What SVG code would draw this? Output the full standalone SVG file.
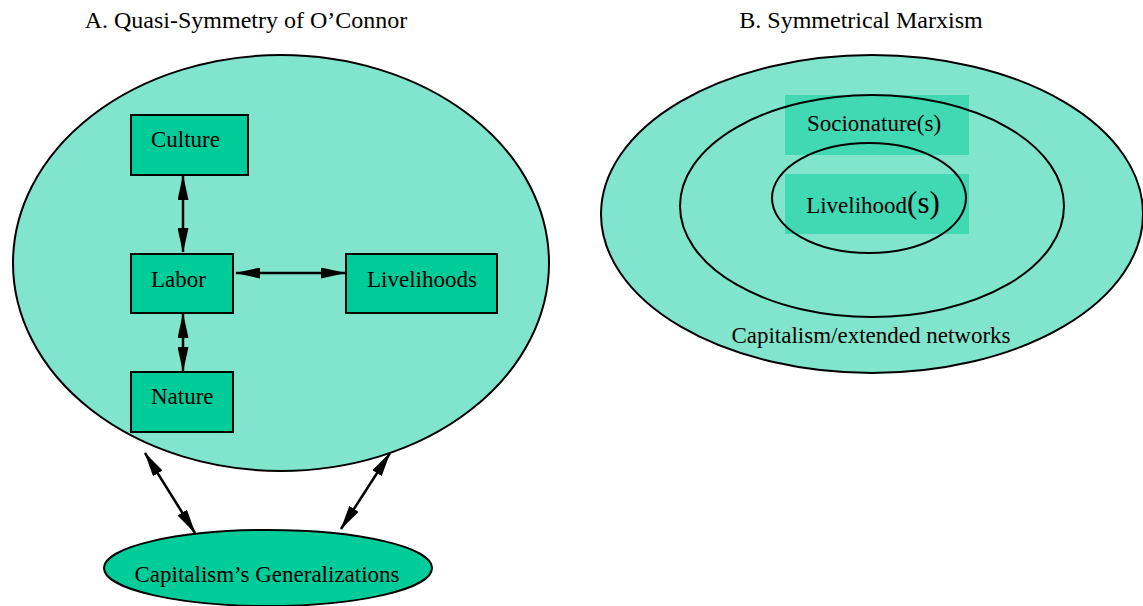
<svg xmlns="http://www.w3.org/2000/svg" width="1143" height="606" viewBox="0 0 1143 606">
<style>
  text { font-family: 'Liberation Serif', Tinos, 'Times New Roman', Times, 'DejaVu Serif', serif; fill: #000; }
  .title { font-size: 24px; text-anchor: middle; }
  .lbl { font-size: 23px; }
  .box { fill: #00cc99; stroke: #000; stroke-width: 2; }
  .cluster { fill: #80e5cc; stroke: #000; stroke-width: 2; }
  .ring { fill: none; stroke: #000; stroke-width: 2; }
  .soft { fill: #40d9b3; stroke: none; }
  .edge { stroke: #000; stroke-width: 2.5; fill: none; marker-start: url(#ah); marker-end: url(#ah); }
</style>
<defs>
  <marker id="ah" viewBox="0 0 25 11" refX="24" refY="5.5" markerWidth="25" markerHeight="11" markerUnits="userSpaceOnUse" orient="auto-start-reverse">
    <path d="M0,0 L25,5.5 L0,11 Z" fill="#000"/>
  </marker>
</defs>
<rect x="0" y="0" width="1143" height="606" fill="#fff"/>

<text class="title" x="246" y="28">A. Quasi-Symmetry of O’Connor</text>
<text class="title" x="861" y="28">B. Symmetrical Marxism</text>

<g id="clusterA">
  <ellipse class="cluster" cx="281" cy="263" rx="268" ry="208"/>
</g>

<g id="culture">
  <rect class="box" x="131" y="115" width="117" height="60"/>
  <text class="lbl" x="151" y="147">Culture</text>
</g>
<g id="labor">
  <rect class="box" x="131" y="254" width="102" height="59"/>
  <text class="lbl" x="151" y="287">Labor</text>
</g>
<g id="livelihoods">
  <rect class="box" x="346" y="254" width="151" height="59"/>
  <text class="lbl" x="367" y="287">Livelihoods</text>
</g>
<g id="nature">
  <rect class="box" x="131" y="372" width="102" height="60"/>
  <text class="lbl" x="151" y="404">Nature</text>
</g>
<g id="generalizations">
  <ellipse class="box" cx="268" cy="568" rx="164" ry="38"/>
  <text class="lbl" x="267" y="582" text-anchor="middle">Capitalism’s Generalizations</text>
</g>

<g id="connectors">
  <line class="edge" x1="183" y1="176" x2="183" y2="252"/>
  <line class="edge" x1="236" y1="273" x2="345" y2="273"/>
  <line class="edge" x1="183" y1="314" x2="183" y2="371"/>
  <line class="edge" x1="145" y1="453" x2="195" y2="533"/>
  <line class="edge" x1="390" y1="453" x2="341" y2="529"/>
</g>

<g id="clusterB">
  <ellipse class="cluster" cx="872" cy="214" rx="271" ry="159"/>
  <text class="lbl" x="871" y="343" text-anchor="middle">Capitalism/extended networks</text>
</g>
<g id="socionatures">
  <rect class="soft" x="785" y="95" width="184" height="60"/>
  <ellipse class="ring" cx="872" cy="206" rx="192" ry="111"/>
  <text class="lbl" x="874" y="131" text-anchor="middle">Socionature(s)</text>
</g>
<g id="livelihood">
  <rect class="soft" x="785" y="174" width="184" height="60"/>
  <ellipse class="ring" cx="869" cy="198" rx="97" ry="55"/>
  <text class="lbl" x="873" y="213" text-anchor="middle">Livelihood<tspan font-size="31">(s)</tspan></text>
</g>
</svg>
